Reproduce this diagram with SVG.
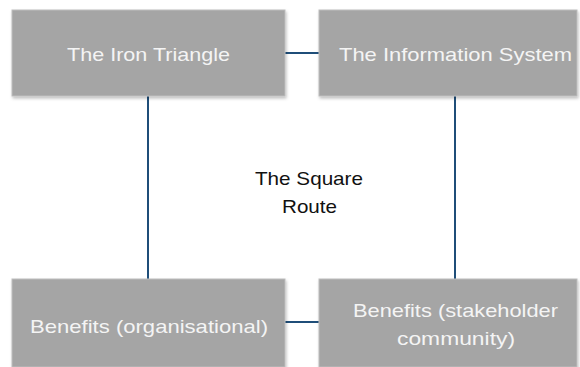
<svg xmlns="http://www.w3.org/2000/svg" width="580" height="367" viewBox="0 0 580 367">
<style>
.box{fill:#a5a5a5;stroke:#bdbdbd;stroke-width:1;filter:url(#sh)}
.lbl{font-family:"Liberation Sans",Arial,sans-serif;font-size:19px;fill:#f4f4f4;text-anchor:middle}
.ctr{font-family:"Liberation Sans",Arial,sans-serif;font-size:19px;fill:#111;text-anchor:middle}
.conn{stroke:#1f4e79;stroke-width:2;fill:none}
</style>
<defs>
<filter id="sh" x="-5%" y="-5%" width="112%" height="115%">
<feDropShadow dx="1" dy="2" stdDeviation="1.5" flood-color="#000" flood-opacity="0.25"/>
</filter>
</defs>
<rect width="580" height="367" fill="#fff"/>
<g id="connectors">
<line class="conn" x1="285" y1="53" x2="319" y2="53"/>
<line class="conn" x1="148" y1="96" x2="148" y2="279"/>
<line class="conn" x1="455" y1="96" x2="455" y2="279"/>
<line class="conn" x1="285" y1="322" x2="319" y2="322"/>
</g>
<g id="iron-triangle">
<rect class="box" x="12" y="10" width="273" height="86"/>
<text class="lbl" x="148.5" y="61" textLength="163" lengthAdjust="spacingAndGlyphs">The Iron Triangle</text>
</g>
<g id="information-system">
<rect class="box" x="319" y="10" width="258" height="86"/>
<text class="lbl" x="455.5" y="61" textLength="233" lengthAdjust="spacingAndGlyphs">The Information System</text>
</g>
<g id="benefits-org">
<rect class="box" x="12" y="279" width="273" height="88"/>
<text class="lbl" x="149" y="333" textLength="238" lengthAdjust="spacingAndGlyphs">Benefits (organisational)</text>
</g>
<g id="benefits-stakeholder">
<rect class="box" x="319" y="279" width="258" height="88"/>
<text class="lbl" x="455.5" y="317" textLength="205" lengthAdjust="spacingAndGlyphs">Benefits (stakeholder</text>
<text class="lbl" x="456" y="345" textLength="118" lengthAdjust="spacingAndGlyphs">community)</text>
</g>
<g id="square-route">
<text class="ctr" x="309" y="185" textLength="108" lengthAdjust="spacingAndGlyphs">The Square</text>
<text class="ctr" x="309.5" y="213" textLength="55" lengthAdjust="spacingAndGlyphs">Route</text>
</g>
</svg>
